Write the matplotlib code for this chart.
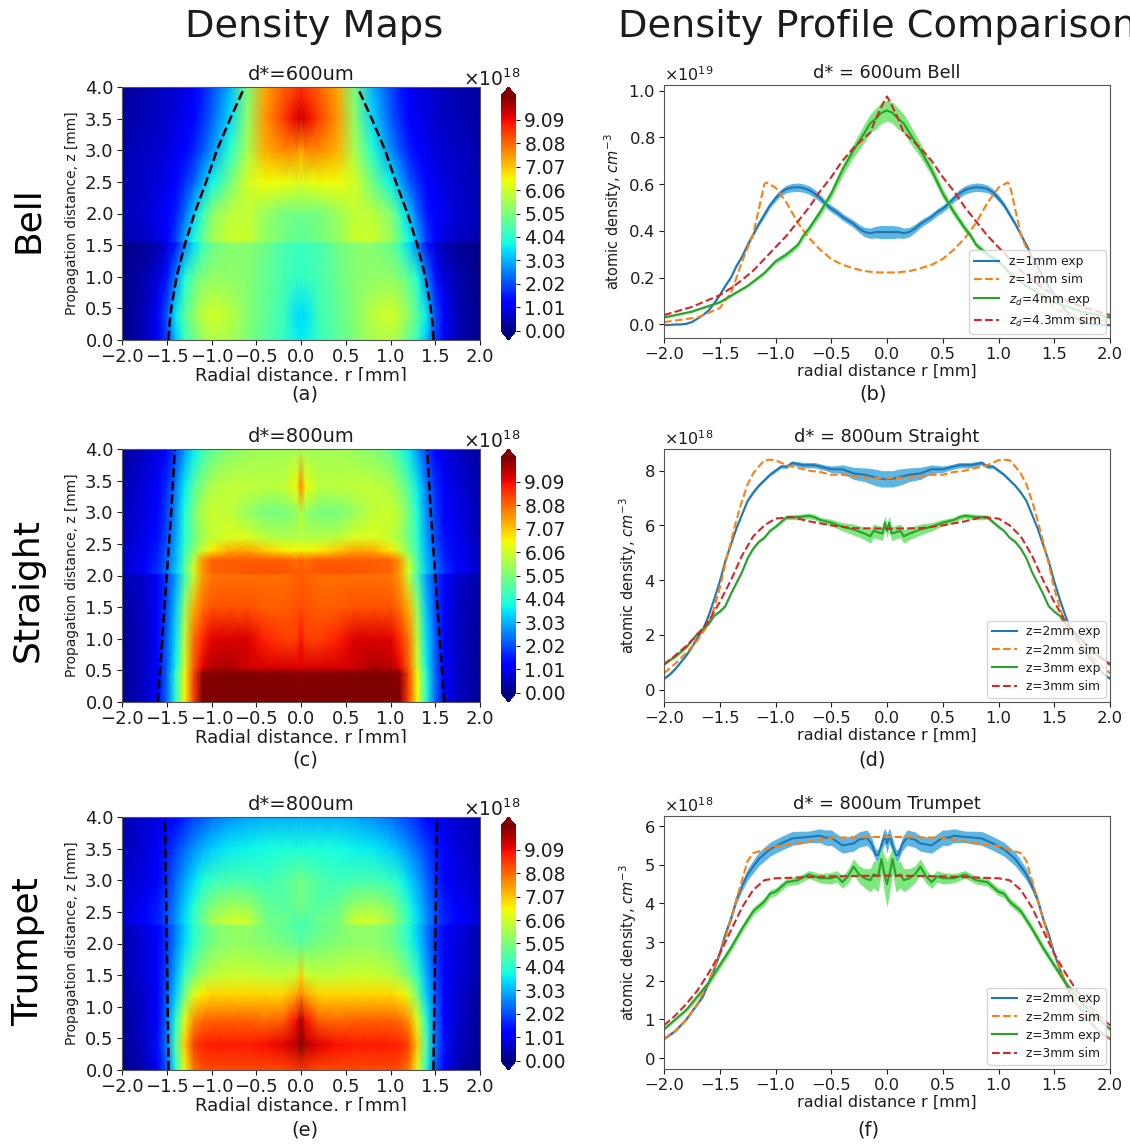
import numpy as np
import matplotlib
matplotlib.use('Agg')
import matplotlib.pyplot as plt
from matplotlib.patches import Rectangle
from matplotlib.ticker import ScalarFormatter

# half profiles, mirrored about r=0 when drawn
map_r = [0, .05, .2, .4, .6, .8, 1.0, 1.1, 1.2, 1.3, 1.4, 1.5, 1.6, 1.75, 2.0]

bell_z = [0, .4, 1.0, 1.54, 1.56, 2.0, 2.5, 3.0, 3.5, 4.0]
bell_map = [
    [3.6, 3.7, 4.2, 4.6, 5.1, 5.6, 5.7, 5.4, 4.8, 4.2, 3.2, 1.9, 1.1, .5, .1],
    [3.4, 3.5, 4.3, 4.7, 5.2, 5.8, 6.1, 5.8, 5.3, 4.6, 3.6, 2.1, 1.2, .5, .1],
    [4.2, 4.2, 4.4, 4.8, 5.2, 5.3, 5.3, 5.1, 4.7, 3.9, 2.6, 1.4, .8, .4, .1],
    [4.3, 4.3, 4.4, 4.9, 5.2, 5.2, 4.8, 4.2, 3.4, 2.5, 1.4, .8, .4, .2, .1],
    [4.7, 4.7, 5.0, 5.3, 6.0, 6.0, 5.5, 4.8, 3.9, 3.0, 1.9, 1.3, .9, .6, .4],
    [4.9, 4.9, 5.0, 5.4, 5.9, 5.8, 5.2, 4.2, 3.3, 2.3, 1.5, 1.2, .95, .7, .5],
    [6.2, 6.3, 6.4, 6.5, 6.1, 4.9, 3.7, 3.0, 2.2, 1.7, 1.3, 1.0, .8, .65, .45],
    [7.3, 7.7, 7.7, 7.3, 5.6, 4.0, 2.7, 2.1, 1.6, 1.2, 1.0, .8, .7, .6, .4],
    [9.4, 9.2, 8.5, 7.6, 5.3, 3.4, 2.2, 1.7, 1.3, 1.0, .85, .7, .6, .5, .35],
    [8.7, 8.5, 8.2, 7.4, 5.0, 3.0, 2.0, 1.5, 1.2, .9, .8, .65, .55, .45, .3],
]

straight_z = [0, .45, .55, 1.0, 1.5, 2.02, 2.04, 2.25, 2.4, 2.6, 3.0, 3.4, 4.0]
straight_map = [
    [10.5, 10.5, 10.5, 10.5, 10.5, 10.5, 10.5, 10.3, 8.5, 6.5, 4.0, 2.3, 1.2, .6, .2],
    [10.0, 10.0, 10.2, 10.2, 10.2, 10.2, 10.2, 10.0, 8.5, 6.4, 4.0, 2.3, 1.2, .6, .2],
    [9.3, 9.3, 9.3, 9.3, 9.4, 9.7, 9.6, 9.2, 8.2, 6.1, 3.7, 2.2, 1.2, .6, .2],
    [9.0, 8.5, 8.5, 8.8, 9.3, 9.3, 9.2, 8.7, 8.0, 5.8, 3.5, 2.2, 1.2, .6, .2],
    [8.4, 8.3, 8.2, 8.2, 8.3, 8.3, 8.3, 8.0, 7.3, 5.3, 3.2, 2.0, 1.2, .6, .3],
    [8.2, 8.1, 8.0, 8.0, 8.0, 8.0, 7.9, 7.5, 5.8, 4.3, 2.8, 1.9, 1.2, .7, .4],
    [8.2, 8.2, 8.3, 8.3, 8.3, 8.2, 8.1, 7.6, 6.2, 4.6, 3.3, 2.4, 1.8, 1.2, .7],
    [8.2, 8.0, 8.2, 8.2, 8.2, 8.2, 8.1, 7.6, 5.8, 4.4, 3.1, 2.3, 1.6, 1.1, .6],
    [6.6, 6.5, 6.6, 7.0, 7.4, 7.3, 6.7, 6.0, 5.2, 4.2, 3.0, 2.2, 1.5, 1.0, .6],
    [5.8, 5.7, 5.7, 5.8, 6.2, 6.2, 5.9, 5.5, 4.9, 4.0, 2.9, 2.0, 1.4, 1.0, .5],
    [5.7, 5.3, 5.0, 5.0, 5.4, 5.9, 6.0, 5.7, 5.0, 3.9, 2.7, 1.9, 1.3, .9, .5],
    [7.8, 6.5, 5.8, 5.8, 5.9, 5.9, 5.7, 5.2, 4.6, 3.6, 2.5, 1.7, 1.2, .8, .4],
    [5.5, 5.5, 5.5, 5.5, 5.4, 5.2, 4.7, 4.2, 3.6, 2.8, 1.9, 1.3, .9, .6, .3],
]

trumpet_z = [0, .4, .8, 1.2, 1.5, 2.0, 2.28, 2.32, 2.6, 3.0, 3.5, 4.0]
trumpet_map = [
    [8.6, 8.6, 8.4, 8.4, 8.4, 8.4, 8.4, 8.3, 7.9, 6.3, 4.0, 2.2, 1.2, .5, .1],
    [10.1, 9.6, 9.2, 9.0, 8.9, 8.9, 8.9, 8.8, 8.5, 7.0, 4.5, 2.5, 1.4, .6, .2],
    [9.8, 9.0, 8.1, 8.0, 8.1, 8.1, 8.1, 8.0, 7.6, 6.2, 4.0, 2.4, 1.3, .7, .2],
    [7.7, 7.4, 6.9, 6.9, 6.9, 6.9, 6.9, 6.7, 6.2, 4.9, 3.3, 2.2, 1.3, .7, .3],
    [7.0, 6.0, 5.9, 5.9, 6.0, 6.0, 5.8, 5.5, 5.0, 4.2, 3.0, 2.0, 1.3, .8, .4],
    [4.6, 4.8, 5.0, 5.2, 5.3, 5.3, 5.0, 4.6, 4.1, 3.4, 2.6, 1.8, 1.2, .8, .4],
    [4.4, 4.5, 4.7, 5.0, 5.3, 5.3, 5.0, 4.5, 4.0, 3.3, 2.5, 1.8, 1.3, .9, .5],
    [4.6, 4.4, 4.9, 5.0, 6.1, 6.1, 5.6, 4.9, 4.2, 3.5, 2.7, 2.1, 1.6, 1.2, .8],
    [5.0, 4.8, 4.6, 4.8, 5.4, 5.5, 5.1, 4.6, 4.0, 3.3, 2.6, 2.0, 1.5, 1.1, .7],
    [5.0, 4.8, 4.5, 4.3, 4.4, 4.4, 4.2, 3.9, 3.4, 2.9, 2.3, 1.7, 1.3, .9, .6],
    [3.9, 3.9, 3.9, 3.8, 3.7, 3.6, 3.3, 3.0, 2.7, 2.3, 1.9, 1.5, 1.1, .8, .5],
    [3.0, 3.0, 3.0, 3.0, 2.9, 2.7, 2.4, 2.1, 1.9, 1.6, 1.3, 1.1, .9, .7, .5],
]

# dashed nozzle outlines
bell_edge_z = [0, .25, .5, 1.0, 1.5, 2.0, 2.5, 3.0, 3.5, 4.0]
bell_edge_r = [1.48, 1.47, 1.45, 1.39, 1.30, 1.19, 1.06, .94, .79, .63]
straight_edge_z = [0, 1.0, 2.0, 3.0, 4.0]
straight_edge_r = [1.60, 1.55, 1.50, 1.45, 1.41]
trumpet_edge_z = [0, 1.0, 2.0, 3.0, 4.0]
trumpet_edge_r = [1.48, 1.49, 1.50, 1.51, 1.52]

tick_vals = [0, 1.01, 2.02, 3.03, 4.04, 5.05, 6.06, 7.07, 8.08, 9.09]

# panel b, x1e19
b1_r = [0, .05, .1, .15, .2, .25, .3, .35, .4, .45, .5, .55, .6, .65, .7, .75, .8, .85, .9, .95, 1.0, 1.05, 1.1, 1.15, 1.2, 1.25, 1.3, 1.35, 1.4, 1.45, 1.5, 1.55, 1.6, 1.65, 1.7, 1.75, 1.8, 1.85, 1.9, 1.95, 2.0]
b1_y = [.395, .395, .395, .39, .395, .41, .43, .445, .46, .48, .495, .515, .54, .56, .575, .583, .587, .585, .58, .565, .54, .51, .47, .43, .385, .34, .29, .25, .2, .165, .125, .09, .06, .04, .025, .01, .003, 0, 0, -.002, -.003]
b1_w = [.028, .028, .025, .022, .02, .018, .016, .015, .015, .015, .015, .015, .016, .018, .018, .018, .018, .018, .016, .015, .014, .012, .012, .01, .008, .007, .006, .005, .004, .004, .003, .003, .003, .002, .002, .002, .002, .002, .002, .002, .002]
b2_r = [0, .1, .2, .3, .4, .5, .6, .7, .8, .9, 1.0, 1.08, 1.1, 1.2, 1.3, 1.35, 1.4, 1.5, 1.7, 2.0]
b2_y = [.222, .223, .228, .24, .255, .28, .32, .37, .435, .52, .585, .607, .6, .385, .27, .2, .135, .07, .03, .01]
b3_r = [0, .05, .1, .15, .2, .3, .4, .5, .6, .7, .75, .8, .9, 1.0, 1.1, 1.25, 1.5, 1.75, 2.0]
b3_y = [.915, .905, .88, .86, .82, .745, .66, .56, .48, .41, .38, .34, .30, .27, .22, .165, .095, .055, .03]
b3_w = [.045, .045, .045, .04, .04, .03, .025, .02, .018, .015, .014, .012, .012, .01, .008, .006, .005, .004, .004]
b4_r = [0, .03, .1, .15, .2, .3, .4, .5, .6, .7, .8, .9, 1.0, 1.1, 1.2, 1.3, 1.4, 1.5, 1.75, 2.0]
b4_y = [.975, .95, .88, .82, .80, .755, .70, .63, .57, .50, .44, .38, .33, .28, .23, .19, .155, .125, .075, .04]

# panel d, x1e18
d1_r = [0, .05, .1, .15, .2, .3, .4, .5, .55, .65, .75, .85, .9, .95, 1.0, 1.05, 1.1, 1.15, 1.2, 1.25, 1.3, 1.35, 1.4, 1.45, 1.5, 1.55, 1.6, 1.65, 1.7, 1.75, 1.8, 1.85, 1.9, 1.95, 2.0]
d1_y = [7.7, 7.7, 7.75, 7.8, 7.85, 7.9, 8.05, 8.05, 8.1, 8.2, 8.2, 8.28, 8.15, 8.15, 8.0, 7.85, 7.65, 7.45, 7.2, 6.9, 6.4, 5.9, 5.3, 4.7, 3.95, 3.3, 2.7, 2.2, 1.9, 1.55, 1.25, 1.0, .75, .55, .4]
d1_w = [.3, .3, .3, .28, .25, .22, .16, .12, .1, .1, .1, .08, .07, .06, .06, .05, .05, .05, .05, .04, .04, .04, .04, .04, .03, .03, .03, .03, .03, .03, .03, .03, .03, .03, .03]
d2_r = [0, .2, .4, .5, .6, .7, .8, .9, 1.0, 1.05, 1.1, 1.15, 1.2, 1.25, 1.3, 1.35, 1.4, 1.45, 1.5, 1.55, 1.6, 1.65, 1.7, 1.8, 1.9, 2.0]
d2_y = [7.72, 7.75, 7.85, 7.85, 7.95, 8.0, 8.1, 8.2, 8.38, 8.4, 8.38, 8.15, 7.9, 7.5, 6.9, 6.2, 5.4, 4.6, 3.7, 3.0, 2.4, 2.1, 1.8, 1.35, .95, .6]
d3_r = [0, .02, .04, .08, .12, .15, .2, .3, .4, .5, .6, .65, .7, .8, .9, 1.0, 1.05, 1.1, 1.15, 1.2, 1.25, 1.3, 1.35, 1.4, 1.45, 1.5, 1.55, 1.6, 1.7, 1.8, 1.9, 2.0]
d3_y = [5.8, 6.1, 5.7, 5.75, 5.8, 5.6, 5.7, 5.85, 5.95, 6.1, 6.2, 6.3, 6.35, 6.3, 6.3, 5.95, 5.8, 5.55, 5.4, 5.15, 4.8, 4.3, 3.9, 3.5, 3.05, 2.85, 2.7, 2.4, 2.05, 1.55, 1.2, .95]
d3_w = [.25, .25, .25, .25, .25, .25, .22, .2, .15, .12, .1, .1, .1, .1, .08, .06, .05, .05, .05, .05, .05, .05, .05, .05, .05, .04, .04, .04, .04, .04, .04, .04]
d4_r = [0, .3, .5, .7, .85, 1.0, 1.1, 1.2, 1.3, 1.4, 1.5, 1.6, 1.7, 1.8, 1.9, 2.0]
d4_y = [5.88, 5.9, 6.0, 6.15, 6.3, 6.25, 6.0, 5.6, 4.9, 4.0, 3.2, 2.5, 2.0, 1.6, 1.25, .9]

# panel f, x1e18
f1_r = [0, .02, .04, .06, .08, .1, .12, .14, .18, .25, .3, .4, .45, .5, .55, .6, .7, .85, .95, 1.05, 1.15, 1.25, 1.3, 1.35, 1.4, 1.45, 1.5, 1.55, 1.6, 1.65, 1.7, 1.8, 1.9, 2.0]
f1_y = [5.55, 5.75, 5.6, 5.4, 5.25, 5.25, 5.4, 5.55, 5.7, 5.65, 5.55, 5.5, 5.6, 5.7, 5.7, 5.75, 5.72, 5.68, 5.55, 5.4, 5.15, 4.75, 4.45, 4.1, 3.6, 3.2, 2.7, 2.3, 1.95, 1.6, 1.4, 1.0, .7, .5]
f1_w = [.25, .2, .2, .18, .15, .15, .15, .18, .2, .2, .2, .2, .2, .2, .2, .18, .15, .18, .18, .18, .18, .15, .12, .1, .07, .05, .04, .04, .03, .03, .03, .03, .03, .03]
f2_r = [0, .5, .8, 1.0, 1.2, 1.25, 1.3, 1.35, 1.4, 1.45, 1.5, 1.6, 1.7, 1.8, 1.9, 2.0]
f2_y = [5.72, 5.7, 5.55, 5.48, 5.3, 5.1, 4.6, 4.1, 3.6, 3.1, 2.7, 1.95, 1.4, 1.0, .7, .5]
f3_r = [0, .03, .05, .08, .12, .15, .2, .25, .3, .35, .4, .45, .5, .6, .7, .8, .9, 1.0, 1.05, 1.1, 1.2, 1.3, 1.4, 1.5, 1.6, 1.7, 1.8, 1.9, 2.0]
f3_y = [4.5, 4.85, 5.15, 4.7, 4.75, 4.6, 4.65, 4.75, 4.95, 4.7, 4.55, 4.7, 4.65, 4.65, 4.75, 4.6, 4.55, 4.3, 4.25, 4.05, 3.8, 3.35, 2.85, 2.4, 1.95, 1.6, 1.25, 1.0, .75]
f3_w = [.6, .45, .35, .4, .35, .3, .25, .22, .2, .18, .16, .15, .15, .12, .1, .1, .1, .1, .1, .1, .1, .1, .1, .09, .08, .07, .05, .04, .04]
f4_r = [0, .5, 1.0, 1.1, 1.2, 1.3, 1.4, 1.5, 1.6, 1.7, 1.8, 1.9, 2.0]
f4_y = [4.72, 4.7, 4.65, 4.6, 4.35, 3.9, 3.3, 2.7, 2.2, 1.75, 1.4, 1.1, .85]

W, H = 1130, 1144
INK = '#1c1c1c'
BLUE_BAND = '#5cb5e3'
GREEN_BAND = '#7ee87e'

plt.rcParams['text.color'] = INK
plt.rcParams['axes.labelcolor'] = INK
plt.rcParams['xtick.color'] = INK
plt.rcParams['ytick.color'] = INK
plt.rcParams['axes.edgecolor'] = '#555555'


def mirror(half):
    half = np.asarray(half, dtype=float)
    return np.concatenate([half[:0:-1], half])


def mirror_x(half):
    half = np.asarray(half, dtype=float)
    return np.concatenate([-half[:0:-1], half])


def axes_px(fig, x0, y0, x1, y1):
    return fig.add_axes([x0 / W, 1 - y1 / H, (x1 - x0) / W, (y1 - y0) / H])


def density_map(fig, top, title, z, grid, edge_r, edge_z):
    ax = axes_px(fig, 122, top, 480, top + 253)
    vals = np.array([mirror(row) for row in grid])
    mesh = ax.pcolormesh(mirror_x(map_r), z, vals, cmap='jet', vmin=0, vmax=10.1, shading='gouraud', rasterized=True)
    edge_r = np.asarray(edge_r)
    ax.plot(-edge_r, edge_z, 'k--', lw=1.8)
    ax.plot(edge_r, edge_z, 'k--', lw=1.8)
    ax.set_xlim(-2, 2)
    ax.set_ylim(0, 4)
    ax.set_xticks(np.arange(-2, 2.1, .5))
    ax.set_yticks(np.arange(0, 4.1, .5))
    ax.tick_params(labelsize=13, pad=2.5, length=3.5)
    ax.set_xlabel('Radial distance, r [mm]', fontsize=13, labelpad=0)
    ax.set_ylabel('Propagation distance, z [mm]', fontsize=9.9, labelpad=4)
    ax.set_title(title, fontsize=14, pad=5)

    cax = axes_px(fig, 501, top, 516, top + 253)
    cb = fig.colorbar(mesh, cax=cax, extend='both', extendfrac=.039)
    cb.set_ticks(tick_vals)
    cb.set_ticklabels(['%.2f' % v for v in tick_vals])
    cb.ax.tick_params(labelsize=13.5, pad=3, length=3)
    cb.outline.set_visible(False)
    fig.text(492 / W, 1 - (top - 1) / H, r'$\times 10^{18}$', fontsize=13.5, ha='center', va='baseline')

    # the source image cuts the axis label off just under the baseline
    fig.add_artist(Rectangle((60 / W, 1 - (top + 299) / H), 460 / W, 5 / H, transform=fig.transFigure,
                             fc='white', ec='none', zorder=5))


def profile(fig, top, title, ylim, yticks, scale, curves, labels):
    ax = axes_px(fig, 664, top, 1110, top + 253)
    (r1, y1, w1), (r2, y2), (r3, y3, w3), (r4, y4) = curves
    ax.fill_between(mirror_x(r1), (mirror(y1) - mirror(w1)) * scale, (mirror(y1) + mirror(w1)) * scale,
                    color=BLUE_BAND, lw=0)
    ax.fill_between(mirror_x(r3), (mirror(y3) - mirror(w3)) * scale, (mirror(y3) + mirror(w3)) * scale,
                    color=GREEN_BAND, lw=0)
    for (r, y, c, ls, lab) in [(r1, y1, 'C0', '-', labels[0]), (r2, y2, 'C1', '--', labels[1]),
                               (r3, y3, 'C2', '-', labels[2]), (r4, y4, 'C3', '--', labels[3])]:
        ax.plot(mirror_x(r), mirror(y) * scale, color=c, ls=ls, lw=1.5, label=lab)
    ax.set_xlim(-2, 2)
    ax.set_ylim(ylim[0] * scale, ylim[1] * scale)
    ax.set_xticks(np.arange(-2, 2.1, .5))
    ax.set_yticks(np.array(yticks) * scale)
    fmt = ScalarFormatter(useMathText=True)
    fmt.set_powerlimits((0, 0))
    ax.yaxis.set_major_formatter(fmt)
    ax.yaxis.get_offset_text().set_fontsize(11.5)
    ax.tick_params(labelsize=11.8, pad=3, length=3.5)
    ax.set_xlabel('radial distance r [mm]', fontsize=11.5, labelpad=1)
    ax.set_ylabel(r'atomic density, $cm^{-3}$', fontsize=10.5, labelpad=3)
    ax.set_title(title, fontsize=12.8, pad=5)
    ax.legend(loc='lower right', fontsize=8.8, borderaxespad=.35, labelspacing=.42)


fig = plt.figure(figsize=(W / 100, H / 100), dpi=100)

density_map(fig, 87, 'd*=600um', bell_z, bell_map, bell_edge_r, bell_edge_z)
density_map(fig, 449, 'd*=800um', straight_z, straight_map, straight_edge_r, straight_edge_z)
density_map(fig, 817, 'd*=800um', trumpet_z, trumpet_map, trumpet_edge_r, trumpet_edge_z)

profile(fig, 85, 'd* = 600um Bell', (-.058, 1.024), [0, .2, .4, .6, .8, 1.0], 1e19,
        [(b1_r, b1_y, b1_w), (b2_r, b2_y), (b3_r, b3_y, b3_w), (b4_r, b4_y)],
        ['z=1mm exp', 'z=1mm sim', r'$z_d$=4mm exp', r'$z_d$=4.3mm sim'])
profile(fig, 449, 'd* = 800um Straight', (-.45, 8.79), [0, 2, 4, 6, 8], 1e18,
        [(d1_r, d1_y, d1_w), (d2_r, d2_y), (d3_r, d3_y, d3_w), (d4_r, d4_y)],
        ['z=2mm exp', 'z=2mm sim', 'z=3mm exp', 'z=3mm sim'])
profile(fig, 816, 'd* = 800um Trumpet', (-.28, 6.26), [0, 1, 2, 3, 4, 5, 6], 1e18,
        [(f1_r, f1_y, f1_w), (f2_r, f2_y), (f3_r, f3_y, f3_w), (f4_r, f4_y)],
        ['z=2mm exp', 'z=2mm sim', 'z=3mm exp', 'z=3mm sim'])

fig.text(314 / W, 1 - 27 / H, 'Density Maps', fontsize=27.5, ha='center', va='center')
fig.text(618 / W, 1 - 27 / H, 'Density Profile Comparison', fontsize=27.5, ha='left', va='center')

for label, y in [('Bell', 220), ('Straight', 590), ('Trumpet', 952)]:
    fig.text(28 / W, 1 - y / H, label, fontsize=26, rotation=90, ha='center', va='center', color='black')

for label, x, y in [('(a)', 305, 394), ('(b)', 873, 394), ('(c)', 305, 760),
                    ('(d)', 872, 760), ('(e)', 305, 1130), ('(f)', 868, 1130)]:
    fig.text(x / W, 1 - y / H, label, fontsize=14, ha='center', va='center')

fig.savefig('out.png', dpi=100)
